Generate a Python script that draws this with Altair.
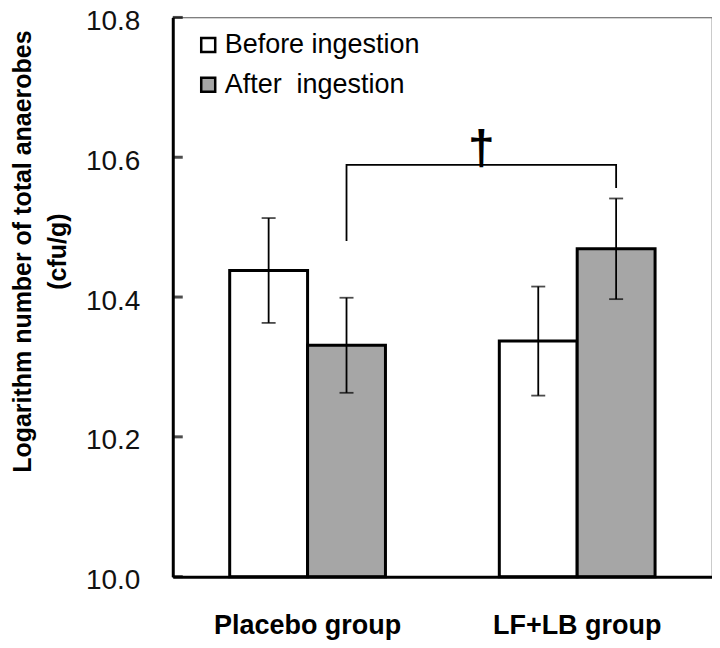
import altair as alt
import pandas as pd

groups = ["Placebo group", "LF+LB group"]
phases = ["Before ingestion", "After\u00a0 ingestion"]
means = [10.438, 10.331, 10.337, 10.469]
errs = [0.075, 0.068, 0.078, 0.072]
y_ticks = [10.0, 10.2, 10.4, 10.6, 10.8]
bracket_y = [10.48, 10.589, 10.589, 10.556]
dagger = "\u2020"

FONT = "Liberation Sans"

rows = []
i = 0
for g in groups:
    for p in phases:
        rows.append({"group": g, "phase": p, "mean": means[i],
                     "lo": means[i] - errs[i], "hi": means[i] + errs[i], "base": 10.0})
        i += 1
df = pd.DataFrame(rows)

bracket = pd.DataFrame({
    "group": [groups[0], groups[0], groups[1], groups[1]],
    "phase": [phases[1]] * 4,
    "v": bracket_y,
    "order": [0, 1, 2, 3],
})
dag = pd.DataFrame({"group": [groups[0]], "phase": [phases[1]], "v": [bracket_y[1]], "t": [dagger]})
ticks_df = pd.DataFrame({"t": y_ticks})

xs = alt.Scale(domain=groups, paddingInner=0, paddingOuter=0)
xos = alt.Scale(domain=phases, paddingInner=0, paddingOuter=0.731)
ys = alt.Scale(domain=[10.0, 10.8], zero=False, nice=False)

X = alt.X("group:N", scale=xs, sort=groups,
          axis=alt.Axis(title=None, ticks=False, labelAngle=0, labelFont=FONT,
                        labelFontSize=27, labelFontWeight="bold", labelColor="black",
                        labelPadding=36, labelBaseline="top", labelLimit=0,
                        domainColor="black", domainWidth=3, zindex=2))
XO = alt.XOffset("phase:N", scale=xos, sort=phases)

bars = alt.Chart(df).mark_bar(stroke="black", strokeWidth=3).encode(
    x=X, xOffset=XO,
    y=alt.Y("mean:Q", scale=ys,
            axis=alt.Axis(values=y_ticks, format=".1f", ticks=False, grid=False,
                          labelFont=FONT, labelFontSize=28, labelColor="#111",
                          labelPadding=33, labelOffset=4,
                          domainColor="black", domainWidth=3,
                          title=["Logarithm number of total anaerobes", "(cfu/g)"],
                          titleFont=FONT, titleFontSize=25, titleFontWeight="bold",
                          titleColor="black", titleAngle=-90, titleAlign="center",
                          titleBaseline="top", titleX=-162, titleY=234,
                          titleLineHeight=35, zindex=2)),
    y2=alt.Y2("base:Q"),
    fill=alt.Fill("phase:N", scale=alt.Scale(domain=phases, range=["white", "#a6a6a6"]),
                  legend=alt.Legend(title=None, orient="none", legendX=22, legendY=14,
                                    symbolType="square", symbolSize=196,
                                    symbolStrokeColor="black", symbolStrokeWidth=2.5,
                                    labelFont=FONT, labelFontSize=27, labelColor="black",
                                    labelLimit=0, labelOffset=3, rowPadding=12, padding=0)),
)

# inward-pointing y-axis ticks (drawn as short horizontal tick marks at the axis)
inticks = alt.Chart(ticks_df).mark_tick(color="black", thickness=3, size=10,
                                        orient="horizontal").encode(
    y=alt.Y("t:Q", scale=ys),
    x=alt.value(5),
)

err = alt.Chart(df).mark_rule(color="black", strokeWidth=1.8).encode(
    x=X, xOffset=XO,
    y=alt.Y("lo:Q", scale=ys),
    y2="hi:Q",
)

caps_lo = alt.Chart(df).mark_tick(color="black", size=14, thickness=1.8).encode(
    x=X, xOffset=XO, y=alt.Y("lo:Q", scale=ys))
caps_hi = alt.Chart(df).mark_tick(color="black", size=14, thickness=1.8).encode(
    x=X, xOffset=XO, y=alt.Y("hi:Q", scale=ys))

br = alt.Chart(bracket).mark_line(color="black", strokeWidth=1.8).encode(
    x=X, xOffset=XO, y=alt.Y("v:Q", scale=ys), order="order:Q")

dg = alt.Chart(dag).mark_text(font=FONT, fontSize=48, fontWeight="bold",
                              baseline="bottom", dx=135, dy=9, color="black").encode(
    x=X, xOffset=XO, y=alt.Y("v:Q", scale=ys), text="t:N")

chart = alt.layer(bars, err, caps_lo, caps_hi, br, dg, inticks).resolve_scale(
    y="shared", x="shared", xOffset="shared"
).properties(
    width=540, height=560,
    autosize=alt.AutoSizeParams(type="none"),
    padding={"left": 165, "top": 9, "right": 0, "bottom": 70},
).configure_view(stroke="#555", strokeWidth=1.2)

chart.save("out.html", embed_options={"renderer": "svg", "actions": False})
